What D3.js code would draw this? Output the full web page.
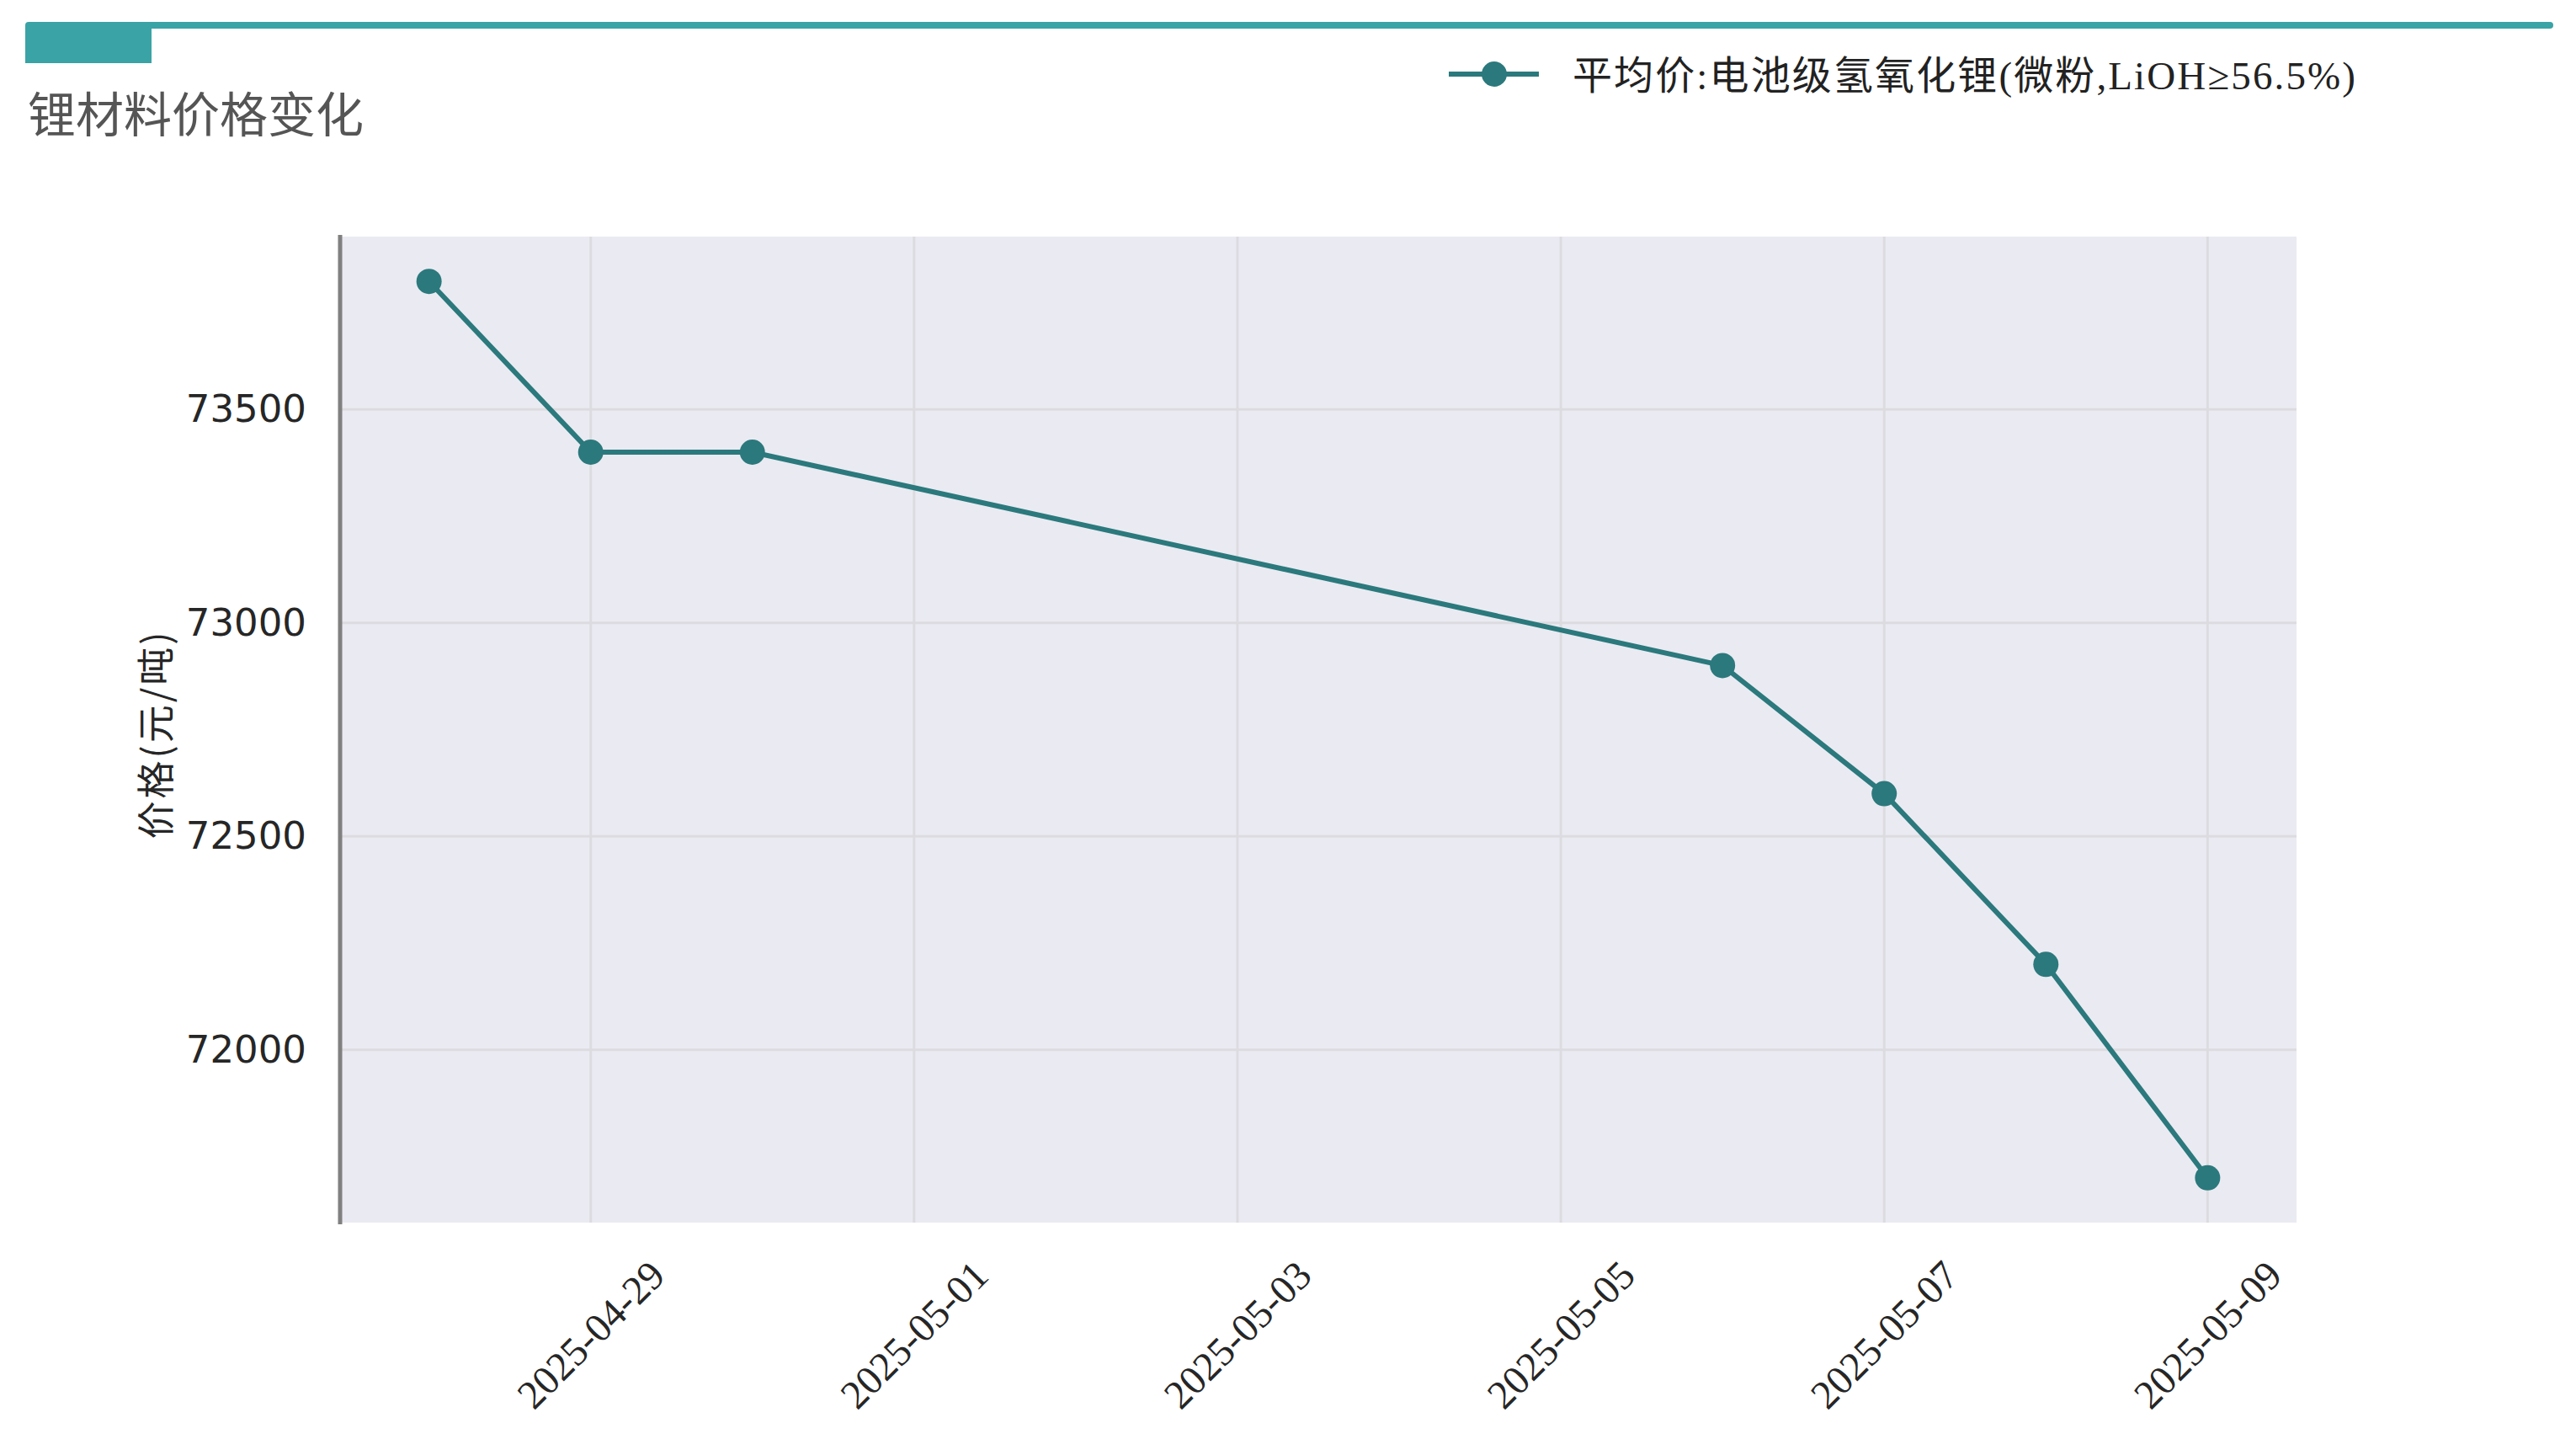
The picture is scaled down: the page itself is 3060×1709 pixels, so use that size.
<!DOCTYPE html>
<html lang="zh">
<head>
<meta charset="utf-8">
<script src="https://cdn.jsdelivr.net/npm/d3@7/dist/d3.min.js"></script>
<style>
  body { margin: 0; background: #fff; }
  svg { display: block; }
</style>
</head>
<body>
<svg width="3060" height="1709"></svg>
<script>
// data
const dates = ["2025-04-28", "2025-04-29", "2025-04-30", "2025-05-06", "2025-05-07", "2025-05-08", "2025-05-09"];
const prices = [73800, 73400, 73400, 72900, 72600, 72200, 71700];
const xTickLabels = ["2025-04-29", "2025-05-01", "2025-05-03", "2025-05-05", "2025-05-07", "2025-05-09"];
const yTicks = [72000, 72500, 73000, 73500];
const seriesName = "平均价:电池级氢氧化锂(微粉,LiOH≥56.5%)";
const title = "锂材料价格变化";
const yLabel = "价格(元/吨)";

const parse = d3.timeParse("%Y-%m-%d");
const data = dates.map((d, i) => ({ date: parse(d), value: prices[i] }));

const svg = d3.select("svg");
const teal = "#2b797c";
const accent = "#3aa3a6";

// plot box
const pLeft = 404, pRight = 2728, pTop = 281, pBottom = 1452;

// header decoration
svg.append("line")
    .attr("x1", 34).attr("x2", 3029).attr("y1", 30).attr("y2", 30)
    .attr("stroke", accent).attr("stroke-width", 8).attr("stroke-linecap", "round");
svg.append("rect")
    .attr("x", 30).attr("y", 30).attr("width", 150).attr("height", 45)
    .attr("fill", accent);

svg.append("text")
    .attr("x", 33).attr("y", 157)
    .attr("font-family", "'Noto Sans CJK SC', sans-serif")
    .attr("font-size", 57)
    .attr("fill", "#555")
    .text(title);

// scales, 5% padding like matplotlib
const xExt = d3.extent(data, d => d.date);
const xPad = (xExt[1] - xExt[0]) * 0.05;
const x = d3.scaleTime()
    .domain([new Date(+xExt[0] - xPad), new Date(+xExt[1] + xPad)])
    .range([pLeft, pRight]);
const yExt = d3.extent(prices);
const yPad = (yExt[1] - yExt[0]) * 0.05;
const y = d3.scaleLinear()
    .domain([yExt[0] - yPad, yExt[1] + yPad])
    .range([pBottom, pTop]);

svg.append("rect")
    .attr("x", pLeft).attr("y", pTop)
    .attr("width", pRight - pLeft).attr("height", pBottom - pTop)
    .attr("fill", "#eaeaf2");

// grid
const xTickDates = xTickLabels.map(parse);
svg.append("g").selectAll("line").data(xTickDates).join("line")
    .attr("x1", d => x(d)).attr("x2", d => x(d))
    .attr("y1", pTop).attr("y2", pBottom)
    .attr("stroke", "#dcdce0").attr("stroke-width", 3);
svg.append("g").selectAll("line").data(yTicks).join("line")
    .attr("x1", pLeft).attr("x2", pRight)
    .attr("y1", d => y(d)).attr("y2", d => y(d))
    .attr("stroke", "#dcdce0").attr("stroke-width", 3);

// y axis
const yAxis = svg.append("g")
    .attr("transform", "translate(" + pLeft + ",0)")
    .call(d3.axisLeft(y).tickValues(yTicks).tickSize(0).tickPadding(40).tickFormat(d3.format("d")));
yAxis.select(".domain").remove();
yAxis.selectAll("text")
    .attr("font-family", "'DejaVu Sans', sans-serif")
    .attr("font-size", 45)
    .attr("fill", "#262626");
svg.append("line")
    .attr("x1", pLeft).attr("x2", pLeft).attr("y1", pTop - 2).attr("y2", pBottom + 2)
    .attr("stroke", "#808080").attr("stroke-width", 5);

// x tick labels, rotated 45 and centred under tick
svg.append("g").selectAll("text").data(xTickDates).join("text")
    .attr("transform", d => "translate(" + x(d) + ",1585) rotate(-45)")
    .attr("text-anchor", "middle")
    .attr("dominant-baseline", "central")
    .attr("font-family", "'Liberation Serif', serif")
    .attr("font-size", 48)
    .attr("fill", "#262626")
    .text((d, i) => xTickLabels[i]);

svg.append("text")
    .attr("transform", "translate(182,872) rotate(-90)")
    .attr("text-anchor", "middle")
    .attr("dominant-baseline", "central")
    .attr("font-family", "'Noto Sans CJK SC', sans-serif")
    .attr("font-size", 45)
    .attr("letter-spacing", 3)
    .attr("fill", "#262626")
    .text(yLabel);

// series
const line = d3.line().x(d => x(d.date)).y(d => y(d.value));
svg.append("path")
    .datum(data)
    .attr("d", line)
    .attr("fill", "none")
    .attr("stroke", teal)
    .attr("stroke-width", 6);
svg.append("g").selectAll("circle").data(data).join("circle")
    .attr("cx", d => x(d.date)).attr("cy", d => y(d.value))
    .attr("r", 15).attr("fill", teal);

// legend
const lg = svg.append("g");
lg.append("line")
    .attr("x1", 1721).attr("x2", 1828).attr("y1", 88).attr("y2", 88)
    .attr("stroke", teal).attr("stroke-width", 6);
lg.append("circle").attr("cx", 1775).attr("cy", 88).attr("r", 15).attr("fill", teal);
lg.append("text")
    .attr("x", 1868).attr("y", 90)
    .attr("dominant-baseline", "central")
    .attr("font-family", "'Liberation Serif', 'Noto Sans CJK SC', serif")
    .attr("font-size", 47)
    .attr("textLength", 930)
    .attr("lengthAdjust", "spacing")
    .attr("fill", "#222")
    .text(seriesName);
</script>
</body>
</html>
